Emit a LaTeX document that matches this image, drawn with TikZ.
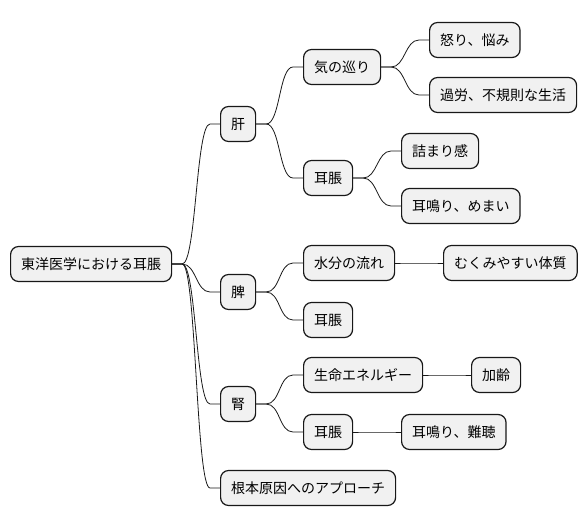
\documentclass[tikz,border=0pt]{standalone}
\usepackage{fontspec}
\setmainfont{Noto Sans CJK JP}
\usetikzlibrary{positioning}
\definecolor{nodegray}{RGB}{241,241,241}
\definecolor{bordercolor}{RGB}{24,24,24}
\tikzset{
  topic/.style={draw=bordercolor, line width=1.2pt, rounded corners=8pt, fill=nodegray,
                anchor=west, minimum height=35pt, inner xsep=10.5pt, inner ysep=0pt,
                font=\fontsize{14}{16}\selectfont},
  link/.style={line width=0.8pt, color=bordercolor},
}
\newcommand{\branch}[2]{\draw[link] (#1.east) -- ++(10pt,0) .. controls +(14pt,0) and +(-14pt,0) .. ([xshift=-10pt]#2.west) -- (#2.west);}

\begin{document}
\begin{tikzpicture}[x=1pt, y=1pt]
  \useasboundingbox (0,0) rectangle (586,-527);
  % root
  \node[topic] (root) at (10,-264) {東洋医学における耳脹};
  % 肝
  \node[topic] (kan) at (220,-124) {肝};
  \node[topic] (kimeguri) at (303,-67) {気の巡り};
  \node[topic] (ikari) at (429,-40) {怒り、悩み};
  \node[topic] (karou) at (429,-95) {過労、不規則な生活};
  \node[topic] (kanjicho) at (303,-178) {耳脹};
  \node[topic] (tsumari) at (401,-151) {詰まり感};
  \node[topic] (memai) at (401,-206) {耳鳴り、めまい};
  % 脾
  \node[topic] (hi) at (220,-292) {脾};
  \node[topic] (suibun) at (303,-263) {水分の流れ};
  \node[topic] (mukumi) at (443,-263) {むくみやすい体質};
  \node[topic] (hijicho) at (303,-320) {耳脹};
  % 腎
  \node[topic] (jin) at (220,-404) {腎};
  \node[topic] (seimei) at (303,-375) {生命エネルギー};
  \node[topic] (karei) at (471,-375) {加齢};
  \node[topic] (jinjicho) at (303,-432) {耳脹};
  \node[topic] (nancho) at (401,-432) {耳鳴り、難聴};
  \node[topic] (konpon) at (220,-488) {根本原因へのアプローチ};

  \branch{root}{kan}
  \branch{root}{hi}
  \branch{root}{jin}
  \branch{root}{konpon}
  \branch{kan}{kimeguri}
  \branch{kan}{kanjicho}
  \branch{kimeguri}{ikari}
  \branch{kimeguri}{karou}
  \branch{kanjicho}{tsumari}
  \branch{kanjicho}{memai}
  \branch{hi}{suibun}
  \branch{hi}{hijicho}
  \branch{suibun}{mukumi}
  \branch{jin}{seimei}
  \branch{jin}{jinjicho}
  \branch{seimei}{karei}
  \branch{jinjicho}{nancho}
\end{tikzpicture}
\end{document}
